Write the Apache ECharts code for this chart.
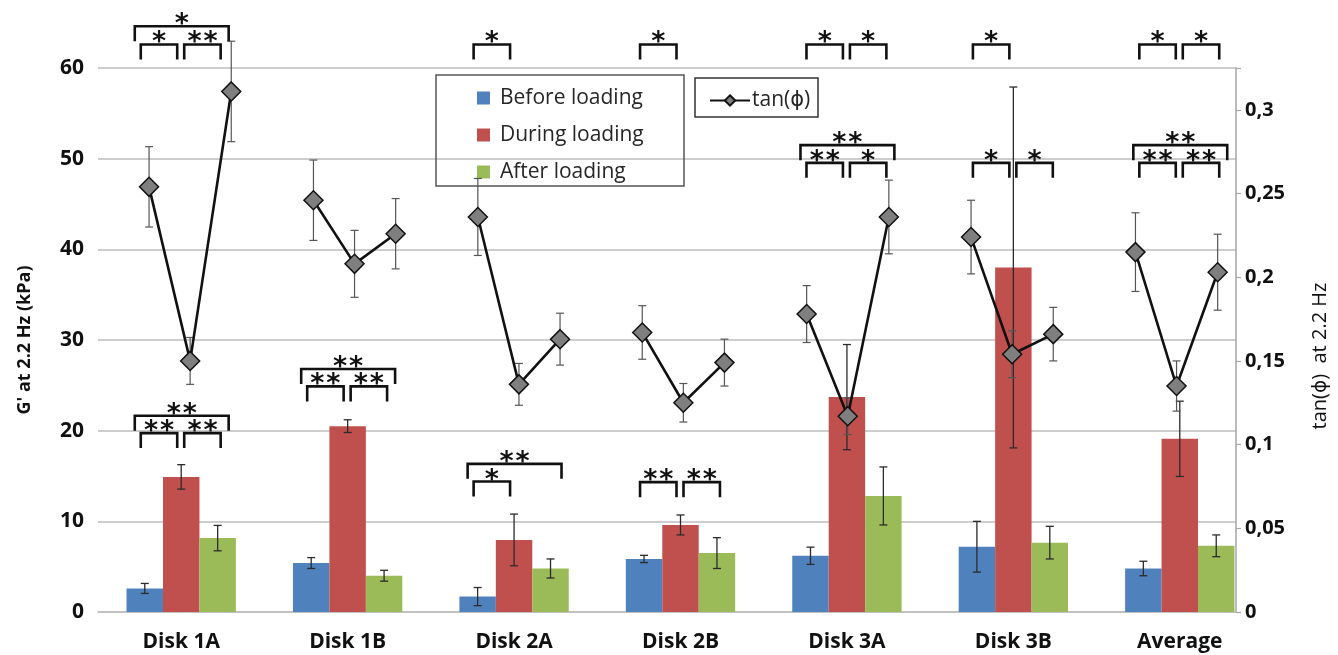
<!DOCTYPE html>
<html>
<head>
<meta charset="utf-8">
<title>G' and tan(ϕ) at 2.2 Hz</title>
<script src="https://cdn.jsdelivr.net/npm/echarts@6.0.0/dist/echarts.min.js"></script>
<style>
  html, body { margin: 0; padding: 0; background: #fff; }
  #chart { width: 1338px; height: 655px; }
</style>
</head>
<body>
<div id="chart"></div>
<script>
const categories = ['Disk 1A', 'Disk 1B', 'Disk 2A', 'Disk 2B', 'Disk 3A', 'Disk 3B', 'Average'];
const seriesNames = ['Before loading', 'During loading', 'After loading'];

const gBefore    = [2.6, 5.4, 1.7, 5.85, 6.2, 7.2, 4.8];
const gBeforeErr = [0.55, 0.6, 1.0, 0.4, 0.95, 2.8, 0.8];
const gDuring    = [14.9, 20.5, 7.95, 9.6, 23.7, 38.0, 19.1];
const gDuringErr = [1.35, 0.7, 2.85, 1.1, 5.8, 19.9, 4.15];
const gAfter     = [8.15, 4.0, 4.8, 6.5, 12.8, 7.65, 7.3];
const gAfterErr  = [1.4, 0.6, 1.05, 1.7, 3.2, 1.8, 1.2];

const tanBefore    = [0.254, 0.246, 0.236, 0.167, 0.178, 0.224, 0.215];
const tanBeforeErr = [0.024, 0.024, 0.023, 0.016, 0.017, 0.022, 0.0235];
const tanDuring    = [0.150, 0.208, 0.136, 0.125, 0.117, 0.154, 0.135];
const tanDuringErr = [0.014, 0.020, 0.0125, 0.0115, 0.011, 0.014, 0.015];
const tanAfter     = [0.311, 0.226, 0.163, 0.149, 0.236, 0.166, 0.203];
const tanAfterErr  = [0.030, 0.021, 0.0155, 0.014, 0.022, 0.016, 0.0227];

const leftTicks = [0, 10, 20, 30, 40, 50, 60];
const rightTicks = [0, 0.05, 0.1, 0.15, 0.2, 0.25, 0.3];

// significance brackets: [category, from series, to series, level in G' (kPa), number of stars]
const brackets = [
  [0, 0, 1, 62.6, 1], [0, 1, 2, 62.6, 2], [0, 0, 2, 64.6, 1],
  [2, 0, 1, 62.6, 1],
  [3, 0, 1, 62.6, 1],
  [4, 0, 1, 62.6, 1], [4, 1, 2, 62.6, 1],
  [5, 0, 1, 62.6, 1],
  [6, 0, 1, 62.6, 1], [6, 1, 2, 62.6, 1],
  [0, 0, 1, 19.73, 2], [0, 1, 2, 19.73, 2], [0, 0, 2, 21.64, 2],
  [1, 0, 1, 24.88, 2], [1, 1, 2, 24.88, 2], [1, 0, 2, 26.8, 2],
  [2, 0, 1, 14.39, 1], [2, 0, 2, 16.34, 2],
  [3, 0, 1, 14.32, 2], [3, 1, 2, 14.32, 2],
  [4, 0, 1, 49.54, 2], [4, 1, 2, 49.54, 1], [4, 0, 2, 51.49, 2],
  [5, 0, 1, 49.54, 1], [5, 1, 2, 49.54, 1],
  [6, 0, 1, 49.54, 2], [6, 1, 2, 49.54, 2], [6, 0, 2, 51.49, 2]
];

const COLOR_BEFORE = '#4F81BD';
const COLOR_DURING = '#C0504D';
const COLOR_AFTER = '#9BBB59';
const GRID_COLOR = '#bdbdbd';
const BAR_FRAC = 0.219;
const TAN_MAX = 0.325;
const FONT = '"Open Sans", "DejaVu Sans", sans-serif';

document.addEventListener('DOMContentLoaded', () => {
    const chart = echarts.init(document.getElementById('chart'));

    const gValues = [gBefore, gDuring, gAfter];
    const gErrors = [gBeforeErr, gDuringErr, gAfterErr];
    const tanValues = [tanBefore, tanDuring, tanAfter];
    const tanErrors = [tanBeforeErr, tanDuringErr, tanAfterErr];

    // error bar items for the bars
    const barErrData = [];
    gValues.forEach((vals, s) => {
        vals.forEach((v, i) => barErrData.push([i, s, v, gErrors[s][i]]));
    });

    // tan(phi) sits on its own axis: 3 slots per disk plus one empty slot between disks
    const slotNames = [];
    const tanLine = [];
    const tanErrData = [];
    categories.forEach((c, i) => {
        for (let j = 0; j < 3; j++) {
            slotNames.push(c + ' ' + j);
            tanLine.push(tanValues[j][i]);
            tanErrData.push([slotNames.length - 1, tanValues[j][i], tanErrors[j][i]]);
        }
        if (i < categories.length - 1) {
            slotNames.push('gap ' + i);
            tanLine.push(null);
        }
    });

    function capLines(x, yTop, yBot, half, color, width) {
        const st = { stroke: color, lineWidth: width };
        return [
            { type: 'line', shape: { x1: x, y1: yTop, x2: x, y2: yBot }, style: st },
            { type: 'line', shape: { x1: x - half, y1: yTop, x2: x + half, y2: yTop }, style: st },
            { type: 'line', shape: { x1: x - half, y1: yBot, x2: x + half, y2: yBot }, style: st }
        ];
    }

    function renderBarError(params, api) {
        const cat = api.value(0), s = api.value(1), v = api.value(2), e = api.value(3);
        const bandW = api.size([1, 0])[0];
        const x = api.coord([cat, v])[0] + (s - 1) * bandW * BAR_FRAC;
        const yTop = api.coord([cat, v + e])[1];
        const yBot = api.coord([cat, Math.max(v - e, 0)])[1];
        return { type: 'group', children: capLines(x, yTop, yBot, 4, '#2b2b2b', 1.3) };
    }

    function renderTanError(params, api) {
        const slot = api.value(0), v = api.value(1), e = api.value(2);
        const x = api.coord([slot, v])[0];
        const yTop = api.coord([slot, v + e])[1];
        const yBot = api.coord([slot, v - e])[1];
        return { type: 'group', children: capLines(x, yTop, yBot, 4, '#555', 1.2) };
    }

    function renderBracket(params, api) {
        const cat = api.value(0), a = api.value(1), b = api.value(2), lvl = api.value(3), n = api.value(4);
        const barW = api.size([1, 0])[0] * BAR_FRAC;
        const c = api.coord([cat, lvl]);
        const xs = j => c[0] + (j - 1) * barW;
        let x1, x2;
        if (b - a === 2) { x1 = xs(0) - 10; x2 = xs(2) + 11; }
        else if (a === 0) { x1 = xs(0) - 4; x2 = xs(1) - 4; }
        else { x1 = xs(1) + 3; x2 = xs(2) + 3; }
        const y = c[1];
        const children = [{
            type: 'polyline',
            shape: { points: [[x1, y + 15], [x1, y], [x2, y], [x2, y + 15]] },
            style: { stroke: '#111', lineWidth: 2.6, fill: null, lineJoin: 'miter' }
        }];
        const mid = (x1 + x2) / 2;
        for (let k = 0; k < n; k++) {
            children.push({
                type: 'text',
                style: {
                    text: '*', x: mid + (k - (n - 1) / 2) * 16, y: y - 1,
                    align: 'center', verticalAlign: 'middle',
                    font: 'bold 27px "DejaVu Sans", sans-serif', fill: '#111'
                }
            });
        }
        return { type: 'group', children };
    }

    const barSeries = seriesNames.map((name, s) => ({
        name,
        type: 'bar',
        xAxisIndex: 0,
        yAxisIndex: 0,
        barWidth: (BAR_FRAC * 100) + '%',
        barGap: '0%',
        itemStyle: { color: [COLOR_BEFORE, COLOR_DURING, COLOR_AFTER][s] },
        z: 2,
        data: gValues[s]
    }));

    const option = {
        animation: false,
        backgroundColor: '#fff',
        grid: [
            { left: 98, right: 75, top: 68, bottom: 43 },   // bars
            { left: 98, right: 101, top: 68, bottom: 43 },  // frame, gridlines, right axis
            { left: 128.5, right: 99.8, top: 68, bottom: 43 } // tan(phi)
        ],
        legend: [
            {
                data: seriesNames,
                orient: 'vertical',
                left: 472,
                top: 82,
                itemWidth: 13,
                itemHeight: 13,
                itemGap: 15,
                icon: 'rect',
                textStyle: { fontFamily: FONT, fontSize: 21, color: '#262626', lineHeight: 22, padding: [0, 0, 0, 5] }
            },
            {
                data: ['tan(ϕ)'],
                left: 704,
                top: 85,
                itemWidth: 40,
                itemHeight: 13,
                textStyle: { fontFamily: FONT, fontSize: 21, color: '#262626', padding: [0, 0, 0, -3] }
            }
        ],
        graphic: [
            { type: 'rect', shape: { x: 436, y: 75, width: 248, height: 111 }, style: { fill: null, stroke: '#555', lineWidth: 1.5 }, z: 10 },
            { type: 'rect', shape: { x: 695, y: 78, width: 123, height: 39 }, style: { fill: null, stroke: '#333', lineWidth: 1.5 }, z: 10 }
        ],
        xAxis: [
            {
                type: 'category', gridIndex: 0, data: categories,
                axisLine: { show: false }, axisTick: { show: false },
                axisLabel: { fontFamily: FONT, fontWeight: 'bold', fontSize: 21, color: '#111', margin: 20 }
            },
            {
                type: 'category', gridIndex: 1, data: categories,
                axisLine: { show: true, lineStyle: { color: GRID_COLOR, width: 1.5 } },
                axisTick: { show: false }, axisLabel: { show: false }
            },
            {
                type: 'category', gridIndex: 2, data: slotNames, show: false
            }
        ],
        yAxis: [
            {
                type: 'value', gridIndex: 0, min: leftTicks[0], max: leftTicks[leftTicks.length - 1], interval: 10,
                splitLine: { show: false }, axisLine: { show: false }, axisTick: { show: false },
                axisLabel: { fontFamily: FONT, fontWeight: 'bold', fontSize: 21, color: '#111', margin: 14 },
                name: "G' at 2.2 Hz (kPa)", nameLocation: 'middle', nameGap: 64, nameRotate: 90,
                nameTextStyle: { fontFamily: FONT, fontWeight: 'bold', fontSize: 18, color: '#111' }
            },
            {
                type: 'value', gridIndex: 1, min: leftTicks[0], max: leftTicks[leftTicks.length - 1], interval: 10,
                position: 'left',
                splitLine: { show: true, lineStyle: { color: GRID_COLOR, width: 1.5 } },
                axisLine: { show: false }, axisTick: { show: false }, axisLabel: { show: false }
            },
            {
                type: 'value', gridIndex: 1, min: 0, max: TAN_MAX, interval: 0.05, position: 'right',
                splitLine: { show: false },
                axisLine: { show: true, lineStyle: { color: '#a6a6a6', width: 1.5 } },
                axisTick: { show: true, inside: false, length: 5, lineStyle: { color: '#a6a6a6', width: 1.2 } },
                axisLabel: {
                    fontFamily: FONT, fontWeight: 'bold', fontSize: 20, color: '#111', margin: 9,
                    formatter: v => rightTicks.some(t => Math.abs(t - v) < 1e-9) ? String(+v.toFixed(2)).replace('.', ',') : ''
                },
                name: 'tan(ϕ)  at 2.2 Hz', nameLocation: 'middle', nameGap: 74, nameRotate: 90,
                nameTextStyle: { fontFamily: FONT, fontSize: 20, color: '#111', padding: [0, 32, 0, 0] }
            },
            {
                type: 'value', gridIndex: 2, min: 0, max: TAN_MAX, show: false
            }
        ],
        series: [
            ...barSeries,
            {
                type: 'custom', name: 'barErr', xAxisIndex: 0, yAxisIndex: 0,
                renderItem: renderBarError, data: barErrData, z: 3, silent: true,
                encode: { x: 0, y: 2 }
            },
            {
                type: 'custom', name: 'tanErr', xAxisIndex: 2, yAxisIndex: 3,
                renderItem: renderTanError, data: tanErrData, z: 4, silent: true,
                encode: { x: 0, y: 1 }
            },
            {
                name: 'tan(ϕ)', type: 'line', xAxisIndex: 2, yAxisIndex: 3,
                data: tanLine, connectNulls: false,
                symbol: 'diamond', symbolSize: 19,
                lineStyle: { color: '#111', width: 2.6 },
                itemStyle: { color: '#7f7f7f', borderColor: '#111', borderWidth: 1.5 },
                z: 5
            },
            {
                type: 'custom', name: 'brackets', xAxisIndex: 0, yAxisIndex: 0,
                renderItem: renderBracket, data: brackets, z: 6, silent: true, clip: false,
                encode: { x: 0, y: 3 }
            }
        ]
    };

    chart.setOption(option);
});
</script>
</body>
</html>
